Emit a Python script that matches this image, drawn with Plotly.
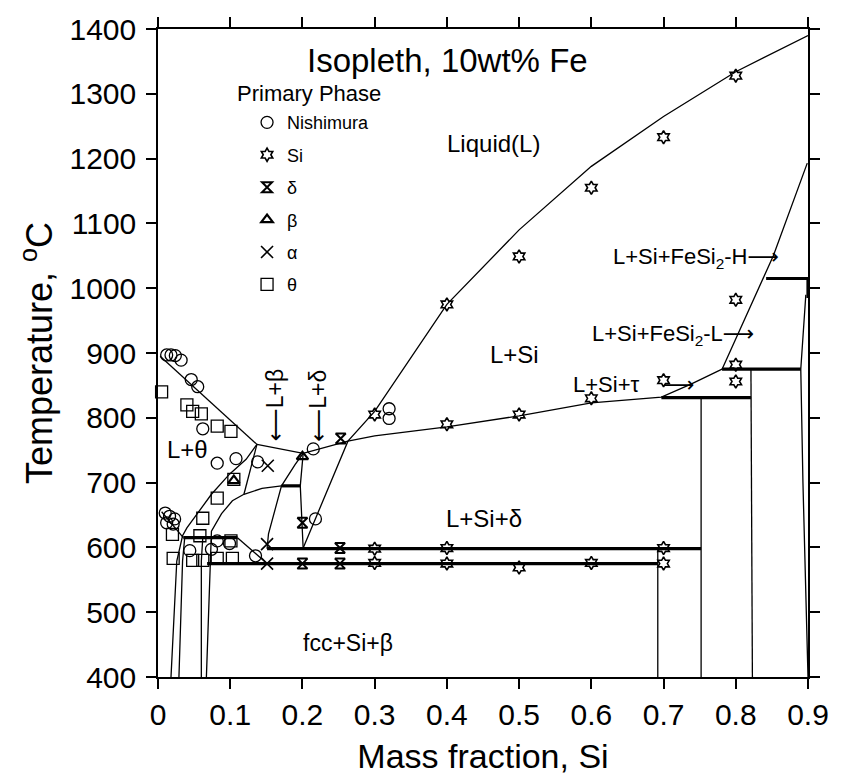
import plotly.graph_objects as go

# ---------------- data (x = mass fraction Si, T = temperature in C) ----------------
# thin phase-boundary lines
liq_si_x = [0.201, 0.263, 0.300, 0.350, 0.400, 0.500, 0.600, 0.700, 0.800, 0.900]
liq_si_T = [599, 764, 810, 893, 975, 1090, 1188, 1265, 1334, 1390]
lsi_low_x = [0.263, 0.300, 0.400, 0.500, 0.600, 0.697, 0.738, 0.781]
lsi_low_T = [764, 772, 786, 803, 823, 832, 852, 875]
fesi2_x = [0.781, 0.852, 0.899]
fesi2_T = [875, 1050, 1193]
theta_liq_x = [0.003, 0.137]
theta_liq_T = [895, 759]
beta_liq_x = [0.137, 0.201, 0.263]
beta_liq_T = [759, 745, 764]
curve_a_x = [0.018, 0.026, 0.034, 0.040, 0.074, 0.099, 0.122, 0.137]
curve_a_T = [400, 579, 618, 630, 682, 713, 736, 759]
curve_b_x = [0.067, 0.073, 0.074, 0.088, 0.103, 0.119]
curve_b_T = [400, 579, 625, 652, 672, 682]
j_line_x = [0.119, 0.128, 0.137]
j_line_T = [682, 720, 759]
beta_sol_x = [0.201, 0.190, 0.171, 0.163, 0.153, 0.151]
beta_sol_T = [745, 728, 695, 661, 621, 598]
delta_v_x = [0.201, 0.197, 0.201]
delta_v_T = [745, 695, 598]
tie_x = [0.119, 0.144, 0.171]
tie_T = [682, 691, 695]
l2_x = [0.029, 0.034, 0.037]
l2_T = [400, 579, 615]
l3_x = [0.060, 0.060, 0.062]
l3_T = [400, 579, 615]
left_sol_x = [0.005, 0.035]
left_sol_T = [655, 615]
low_diag_x = [0.110, 0.128, 0.151]
low_diag_T = [615, 598, 575]
v1_x, v1_T = [0.692, 0.692], [598, 400]
v2_x, v2_T = [0.752, 0.752], [831, 400]
v3_x, v3_T = [0.821, 0.823], [875, 400]
v4_x, v4_T = [0.897, 0.890, 0.893, 0.900], [990, 875, 700, 400]

# thick invariant lines
h1015_x, h1015_T = [0.842, 0.900], [1015, 1015]
v09_x, v09_T = [0.900, 0.900], [1015, 985]
h875_x, h875_T = [0.781, 0.890], [875, 875]
h831_x, h831_T = [0.697, 0.821], [831, 831]
h598_x, h598_T = [0.151, 0.752], [598, 598]
h575_x, h575_T = [0.068, 0.692], [575, 575]
h615_x, h615_T = [0.035, 0.110], [615, 615]
h695_x, h695_T = [0.171, 0.197], [695, 695]

# experimental points (primary phase)
nish_x = [0.012, 0.018, 0.024, 0.032, 0.046, 0.055, 0.062, 0.082, 0.108, 0.138, 0.215,
          0.320, 0.320, 0.218, 0.010, 0.016, 0.023, 0.012, 0.021, 0.044, 0.074, 0.082,
          0.099, 0.135]
nish_T = [897, 897, 896, 889, 859, 848, 783, 730, 737, 732, 752,
          814, 799, 644, 653, 648, 644, 638, 636, 595, 597, 610,
          606, 587]
si_x = [0.300, 0.400, 0.500, 0.600, 0.700, 0.800, 0.800, 0.800, 0.400, 0.500, 0.600,
        0.700, 0.800, 0.300, 0.300, 0.400, 0.400, 0.500, 0.600, 0.700, 0.700]
si_T = [805, 790, 805, 830, 858, 856, 882, 982, 975, 1049, 1155,
        1233, 1328, 598, 576, 599, 575, 569, 576, 599, 575]
delta_x = [0.253, 0.200, 0.200, 0.252, 0.252]
delta_T = [768, 638, 575, 599, 575]
beta_x = [0.200, 0.105]
beta_T = [740, 703]
alpha_x = [0.152, 0.151, 0.151]
alpha_T = [726, 605, 575]
theta_x = [0.005, 0.040, 0.048, 0.060, 0.082, 0.101, 0.105, 0.082, 0.062, 0.020, 0.058,
           0.101, 0.021, 0.048, 0.062, 0.082, 0.103]
theta_T = [840, 820, 810, 806, 787, 779, 705, 676, 645, 620, 618,
           610, 583, 580, 580, 583, 583]

x_ticks = [0, 0.1, 0.2, 0.3, 0.4, 0.5, 0.6, 0.7, 0.8, 0.9]
x_tick_text = ["0", "0.1", "0.2", "0.3", "0.4", "0.5", "0.6", "0.7", "0.8", "0.9"]
y_ticks = [400, 500, 600, 700, 800, 900, 1000, 1100, 1200, 1300, 1400]

# ---------------- figure ----------------
FONT = "Liberation Sans, Arial, Helvetica, DejaVu Sans, sans-serif"
fig = go.Figure()

thin_lines = [
    (liq_si_x, liq_si_T), (lsi_low_x, lsi_low_T), (fesi2_x, fesi2_T),
    (theta_liq_x, theta_liq_T), (beta_liq_x, beta_liq_T), (curve_a_x, curve_a_T),
    (curve_b_x, curve_b_T), (j_line_x, j_line_T), (beta_sol_x, beta_sol_T),
    (delta_v_x, delta_v_T), (tie_x, tie_T), (l2_x, l2_T), (l3_x, l3_T),
    (left_sol_x, left_sol_T), (low_diag_x, low_diag_T),
    (v1_x, v1_T), (v2_x, v2_T), (v3_x, v3_T), (v4_x, v4_T),
]
thick_lines = [
    (h1015_x, h1015_T), (v09_x, v09_T), (h875_x, h875_T), (h831_x, h831_T),
    (h598_x, h598_T), (h575_x, h575_T), (h615_x, h615_T), (h695_x, h695_T),
]
for xs, ts in thin_lines:
    fig.add_trace(go.Scatter(x=xs, y=ts, mode="lines", line=dict(color="black", width=1.3),
                             showlegend=False, hoverinfo="skip"))
for xs, ts in thick_lines:
    fig.add_trace(go.Scatter(x=xs, y=ts, mode="lines", line=dict(color="black", width=3.2),
                             showlegend=False, hoverinfo="skip"))

marker_sets = [
    ("Nishimura", nish_x, nish_T, "circle-open", 12, 1.3),
    ("Si", si_x, si_T, "hexagram-open", 10, 1.6),
    ("δ", delta_x, delta_T, "hourglass-open", 10, 2),
    ("β", beta_x, beta_T, "triangle-up-open", 10, 2.2),
    ("α", alpha_x, alpha_T, "x-thin-open", 12, 1.6),
    ("θ", theta_x, theta_T, "square-open", 12, 1.3),
]
for i, (name, xs, ts, sym, size, lw) in enumerate(marker_sets):
    fig.add_trace(go.Scatter(
        x=xs, y=ts, mode="markers", name=name, legendgroup=f"g{i}",
        marker=dict(symbol=sym, size=size, color="black", line=dict(color="black", width=lw)),
        cliponaxis=False))

annots = [
    ("Liquid(L)", 0.464, 1224, 24, 0),
    ("L+Si", 0.493, 898, 24, 0),
    ("L+Si+δ", 0.451, 645, 24, 0),
    ("fcc+Si+β", 0.263, 452, 23, 0),
    ("L+θ", 0.041, 751, 24, 0),
    ("⟵L+β", 0.163, 819, 23, -90),
    ("⟵L+δ", 0.222, 819, 23, -90),
    ("L+Si+FeSi<sub>2</sub>-H⟶", 0.745, 1047, 22, 0),
    ("L+Si+FeSi<sub>2</sub>-L⟶", 0.713, 928, 22, 0),
    ("L+Si+τ", 0.62, 851, 22, 0),
    ("⟶", 0.722, 851, 22, 0),
]
annotations = []
for txt, x, y, sz, ang in annots:
    annotations.append(dict(text=txt, x=x, y=y, xref="x", yref="y", showarrow=False,
                            xanchor="center", yanchor="middle",
                            textangle=ang, font=dict(size=sz, color="black", family=FONT)))
annotations.append(dict(text="Isopleth, 10wt% Fe", x=0.446, y=0.951, xref="paper", yref="paper",
                        xanchor="center", yanchor="middle",
                        showarrow=False, font=dict(size=33, color="black", family=FONT)))
annotations.append(dict(text="Primary Phase", x=0.233, y=0.900, xref="paper", yref="paper",
                        xanchor="center", yanchor="middle",
                        showarrow=False, font=dict(size=22, color="black", family=FONT)))

fig.update_layout(
    width=841, height=783,
    margin=dict(l=158, r=26, t=25, b=106),
    paper_bgcolor="white", plot_bgcolor="white",
    font=dict(family=FONT, color="black"),
    annotations=annotations,
    showlegend=True,
    legend=dict(
        x=0.137, y=0.884, xanchor="left", yanchor="top",
        font=dict(size=18, family=FONT), tracegroupgap=6,
        bgcolor="rgba(0,0,0,0)", itemwidth=30,
    ),
)
fig.update_xaxes(
    range=[0, 0.9], tickvals=x_ticks, ticktext=x_tick_text,
    showline=True, linecolor="black", linewidth=1.5, mirror="allticks",
    ticks="outside", ticklen=10, tickwidth=1.5, tickcolor="black",
    showgrid=False, zeroline=False, tickfont=dict(size=30, family=FONT),
    title=dict(text="Mass fraction, Si", font=dict(size=34, family=FONT), standoff=14),
)
fig.update_yaxes(
    range=[400, 1400], tickvals=y_ticks,
    showline=True, linecolor="black", linewidth=1.5, mirror="allticks",
    ticks="outside", ticklen=10, tickwidth=1.5, tickcolor="black",
    showgrid=False, zeroline=False, tickfont=dict(size=30, family=FONT),
    ticklabelstandoff=4,
    title=dict(text="Temperature, <sup>o</sup>C", font=dict(size=36, family=FONT), standoff=6),
)

fig.write_html("out.html")
